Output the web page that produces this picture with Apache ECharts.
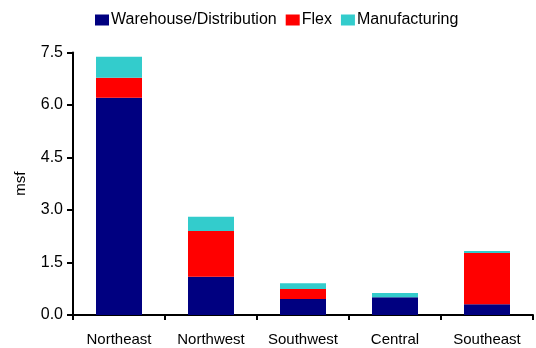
<!DOCTYPE html>
<html><head><meta charset="utf-8">
<script src="https://cdn.jsdelivr.net/npm/echarts@6/dist/echarts.min.js"></script>
<style>html,body{margin:0;padding:0;background:#fff}#c{width:536px;height:348px}</style>
</head><body><div id="c"></div>
<script>
var categories = ['Northeast','Northwest','Southwest','Central','Southeast'];
var warehouse = [6.21, 1.09, 0.46, 0.51, 0.31];
var flex = [0.57, 1.31, 0.28, 0.00, 1.46];
var manufacturing = [0.60, 0.41, 0.17, 0.12, 0.06];
var seriesNames = ['Warehouse/Distribution','Flex','Manufacturing'];
var colors = ['#000080','#FF0000','#33CCCC'];

var chart = echarts.init(document.getElementById('c'), null, {renderer:'canvas'});
var font = 'Arial, "Liberation Sans", sans-serif';
function mk(name, data, color){
  return {name:name, type:'bar', stack:'s', data:data, barWidth:'50%',
    itemStyle:{color:color}, emphasis:{disabled:true}};
}
chart.setOption({
  animation:false,
  legend:{top:7, left:90, itemWidth:14, itemHeight:11, itemGap:9,
    textStyle:{fontFamily:font, fontSize:16, color:'#000', lineHeight:16, padding:[0,0,0,-3]},
    data:seriesNames.map(function(n){return {name:n, icon:'rect'};})},
  grid:{left:73, right:3, top:52.5, bottom:33},
  xAxis:{type:'category', data:categories,
    axisLine:{lineStyle:{color:'#000', width:2}},
    axisTick:{show:true, alignWithLabel:false, length:5, lineStyle:{color:'#000', width:2}},
    axisLabel:{fontFamily:font, fontSize:15, color:'#000', margin:17}},
  yAxis:{type:'value', min:0, max:7.5, interval:1.5, name:'msf', nameLocation:'middle', nameGap:45,
    nameTextStyle:{fontFamily:font, fontSize:15, color:'#000'},
    axisLine:{show:true, lineStyle:{color:'#000', width:2}},
    axisTick:{show:true, length:6, lineStyle:{color:'#000', width:2}},
    splitLine:{show:false},
    axisLabel:{fontFamily:font, fontSize:16, color:'#000', margin:10, formatter:function(v){return v.toFixed(1);}}},
  series:[mk(seriesNames[0], warehouse, colors[0]), mk(seriesNames[1], flex, colors[1]), mk(seriesNames[2], manufacturing, colors[2])]
});
</script></body></html>
